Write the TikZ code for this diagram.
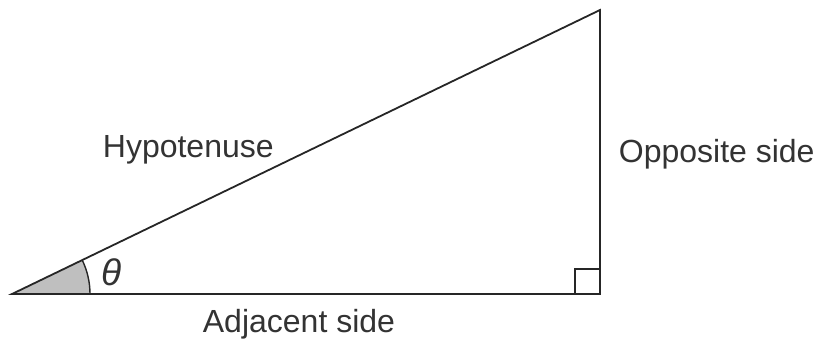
\documentclass[tikz,border=0pt]{standalone}
\usepackage{fontspec}
\setmainfont{Liberation Sans}
\usetikzlibrary{angles}

\begin{document}
\begin{tikzpicture}[x=1pt, y=1pt, line width=1.8pt, color=black!85,
    lbl/.style={inner sep=0pt, anchor=base west, text=black!80,
                font=\fontsize{32}{38}\selectfont}]
    \useasboundingbox (0, 0) rectangle (821, 341);

    \coordinate (A) at (12, 47);
    \coordinate (B) at (600, 47);
    \coordinate (C) at (600, 331);

    % shaded angle at the left corner
    \pic[draw, fill=gray!50, line width=1.4pt, angle radius=78pt] {angle = B--A--C};

    \draw (A) -- (B) -- (C) -- cycle;
    \draw[line width=1.4pt] (575, 47) -- (575, 72) -- (600, 72);

    \node[lbl, font=\fontsize{37}{42}\selectfont] (theta) at (101, 56) {\itshape θ};
    \node[lbl] (hyp) at (102, 184) {Hypotenuse};
    \node[lbl] (opp) at (618, 179) {Opposite side};
    \node[lbl] (adj) at (202, 9) {Adjacent side};
\end{tikzpicture}
\end{document}
